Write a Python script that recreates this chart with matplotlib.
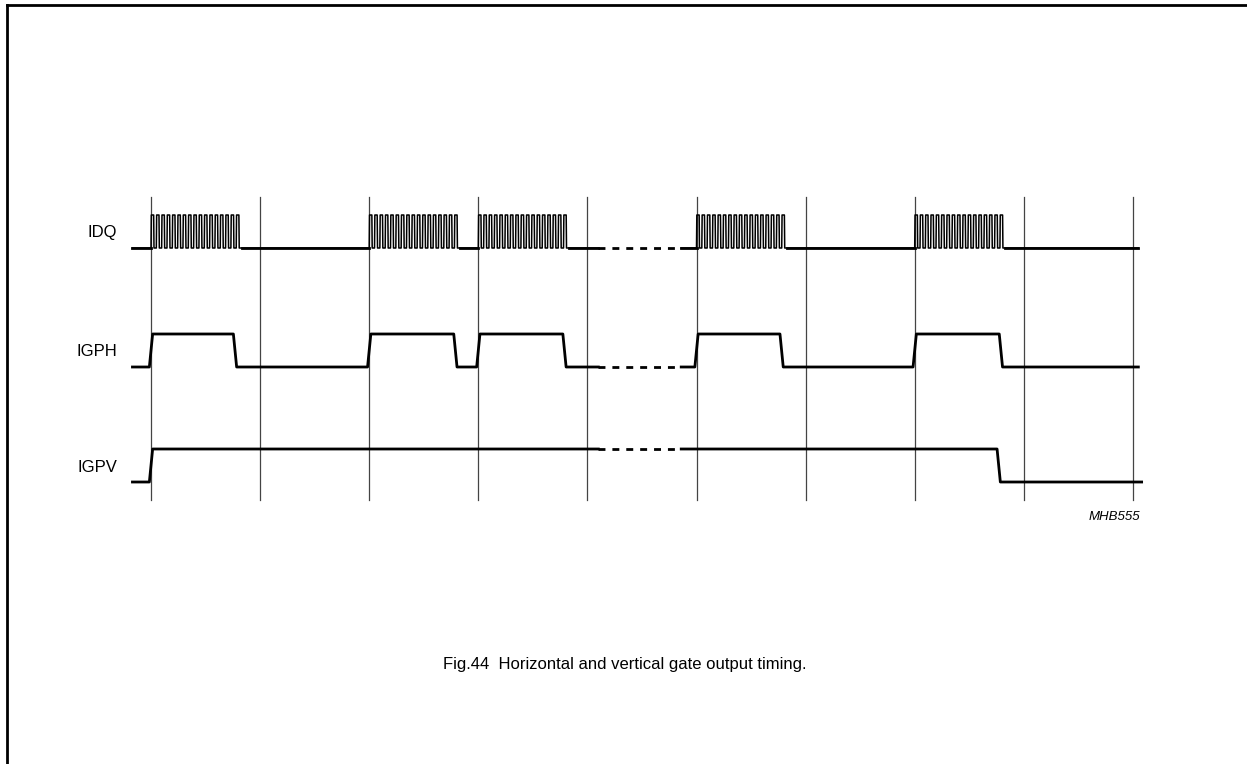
import matplotlib.pyplot as plt
import numpy as np

# time axis in clock periods; vertical grid at each period
grid_t = list(range(10))
signals = ["IDQ", "IGPH", "IGPV"]
row_base = [248, 367, 482]          # low level of each trace (pixel rows)
amp = 33

idq_starts = [0, 2, 3, 5, 7]
idq_len = 0.83
idq_pulses = 17
igph_starts = [0, 2, 3, 5, 7]
igph_ends = [0.77, 2.79, 3.79, 5.78, 7.79]
igpv_rise = 0.0
igpv_fall = 7.77

t_start, t_end = -0.17, 9.05
gap = (4.10, 4.86)
edge = 0.03

x0, dx = 151, 109.1   # pixel of t=0 and pixels per period
fig = plt.figure(figsize=(12.47, 7.64), dpi=100)
ax = fig.add_axes([0, 0, 1, 1])
ax.set_xlim(-x0 / dx, (1247 - x0) / dx)
ax.set_ylim(764, 0)
ax.axis("off")

# frame (top and left only)
ax.plot([-x0 / dx + 7 / dx] * 2, [5, 764], color="black", lw=2)
ax.plot([-x0 / dx + 7 / dx, 20], [5, 5], color="black", lw=2)

for t in grid_t:
    ax.plot([t, t], [197, 500], color="#444444", lw=0.9)


def step_trace(events, base, t0=t_start, t1=t_end):
    # events: list of (t_rise, t_fall)
    ts, ys = [t0], [base]
    for r, f in events:
        ts += [r - edge / 2, r + edge / 2, f - edge / 2, f + edge / 2]
        ys += [base, base - amp, base - amp, base]
    ts.append(t1); ys.append(base)
    return ts, ys


def draw_with_gap(ts, ys, level, width):
    ts = np.array(ts); ys = np.array(ys)
    m1 = ts <= gap[0]
    ax.plot(np.append(ts[m1], gap[0]), np.append(ys[m1], level), color="black", lw=width)
    m2 = ts >= gap[1]
    ax.plot(np.insert(ts[m2], 0, gap[1]), np.insert(ys[m2], 0, level), color="black", lw=width)
    ax.plot(gap, [level, level], color="black", lw=2.0, ls=(0, (2.5, 2.5)))


lw = 2.0
# IDQ
base = row_base[0]
ts, ys = [t_start], [base]
for s in idq_starts:
    per = idq_len / idq_pulses
    for k in range(idq_pulses):
        a = s + k * per
        ts += [a, a + 0.003, a + per / 2, a + per / 2 + 0.003]
        ys += [base, base - amp, base - amp, base]
    ts.append(s + idq_len); ys.append(base)
ts.append(t_end); ys.append(base)
draw_with_gap(ts, ys, base, 1.1)
# thicker baseline segments
ax.plot([t_start, 0], [base, base], color="black", lw=lw)
for i, s in enumerate(idq_starts):
    nxt = idq_starts[i + 1] if i + 1 < len(idq_starts) else t_end
    a, b = s + idq_len, nxt
    if a < gap[0] < b:
        ax.plot([a, gap[0]], [base, base], color="black", lw=lw)
        ax.plot([gap[1], b], [base, base], color="black", lw=lw)
    else:
        ax.plot([a, b], [base, base], color="black", lw=lw)

# IGPH
base = row_base[1]
ts, ys = step_trace(list(zip(igph_starts, igph_ends)), base)
draw_with_gap(ts, ys, base, lw)

# IGPV
base = row_base[2]
ts, ys = step_trace([(igpv_rise, igpv_fall)], base, t1=9.08)
draw_with_gap(ts, ys, base - amp, lw)

for name, b in zip(signals, row_base):
    ax.text(-34 / dx, b - 15, name, ha="right", va="center",
            fontsize=12, family="Liberation Sans")

ax.text(9.07, 517, "MHB555", ha="right", va="center", fontsize=9.5,
        style="italic", family="Liberation Sans")
ax.text((625 - x0) / dx, 665, "Fig.44  Horizontal and vertical gate output timing.",
        ha="center", va="center", fontsize=12, family="Liberation Sans")

fig.savefig("out.png", dpi=100)
